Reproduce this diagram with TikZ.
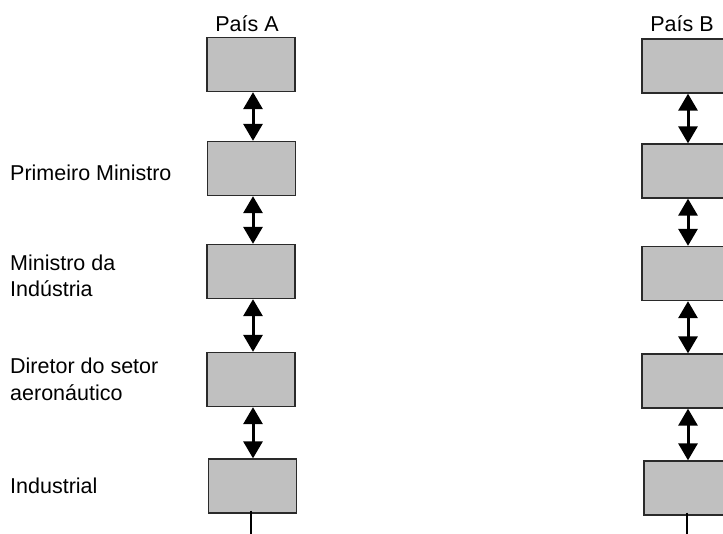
\documentclass[tikz,border=0pt]{standalone}
\usepackage{fontspec}
\setmainfont{Liberation Sans}
\usetikzlibrary{arrows.meta}
\definecolor{boxgray}{HTML}{C0C0C0}
\definecolor{boxline}{HTML}{2A2A2A}
\begin{document}
\begin{tikzpicture}[x=1pt,y=-1pt,
  level/.style={draw=boxline, fill=boxgray, line width=1.3pt, minimum width=88pt,
    minimum height=54pt, inner sep=0pt},
  link/.style={line width=3pt, {Triangle[width=19pt,length=17pt]}-{Triangle[width=19pt,length=17pt]}},
  stem/.style={line width=2.6pt},
  lbl/.style={font=\fontsize{21.5}{26.7}\selectfont, inner sep=0pt, align=left},
  head/.style={font=\fontsize{21.5}{26.7}\selectfont, inner sep=0pt}]
\useasboundingbox (0,0) rectangle (723,533);
\clip (0,0) rectangle (723,533);

% column titles
\node[head, anchor=base] (ta) at (247,31.7) {País A};
\node[head, anchor=base] (tb) at (682,31.7) {País B};

% hierarchy of country A
\node[level] (a1) at (251,64.5) {};
\node[level] (a2) at (251.5,168.5) {};
\node[level] (a3) at (251,271.5) {};
\node[level] (a4) at (251,379.5) {};
\node[level] (a5) at (252.5,486) {};

% hierarchy of country B
\node[level] (b1) at (686,66) {};
\node[level] (b2) at (686,171) {};
\node[level] (b3) at (686,273.5) {};
\node[level] (b4) at (686,381) {};
\node[level] (b5) at (688,488) {};

% role labels (anchored on the baseline of their last line)
\node[lbl, anchor=base west] (l2) at (10,180.7) {Primeiro Ministro};
\node[lbl, anchor=base west] (l3) at (10,296.7) {Ministro da\\Indústria};
\node[lbl, anchor=base west] (l4) at (10,400) {Diretor do setor\\aeronáutico};
\node[lbl, anchor=base west] (l5) at (10,493.3) {Industrial};

% two-way links between levels
\foreach \u/\v in {a1/a2,a2/a3,a3/a4,a4/a5}
  \draw[link] ([xshift=2pt]\u.south -| a1.center) -- ([xshift=2pt]\v.north -| a1.center);
\foreach \u/\v in {b1/b2,b2/b3,b3/b4,b4/b5}
  \draw[link] ([xshift=2pt]\u.south -| b1.center) -- ([xshift=2pt]\v.north -| b1.center);

% lines leaving the bottom level
\coordinate (ea) at (251,540);
\coordinate (eb) at (687,540);
\draw[stem] ([yshift=3pt]a5.south -| ea) -- (ea);
\draw[stem] ([yshift=3pt]b5.south -| eb) -- (eb);
\end{tikzpicture}
\end{document}
